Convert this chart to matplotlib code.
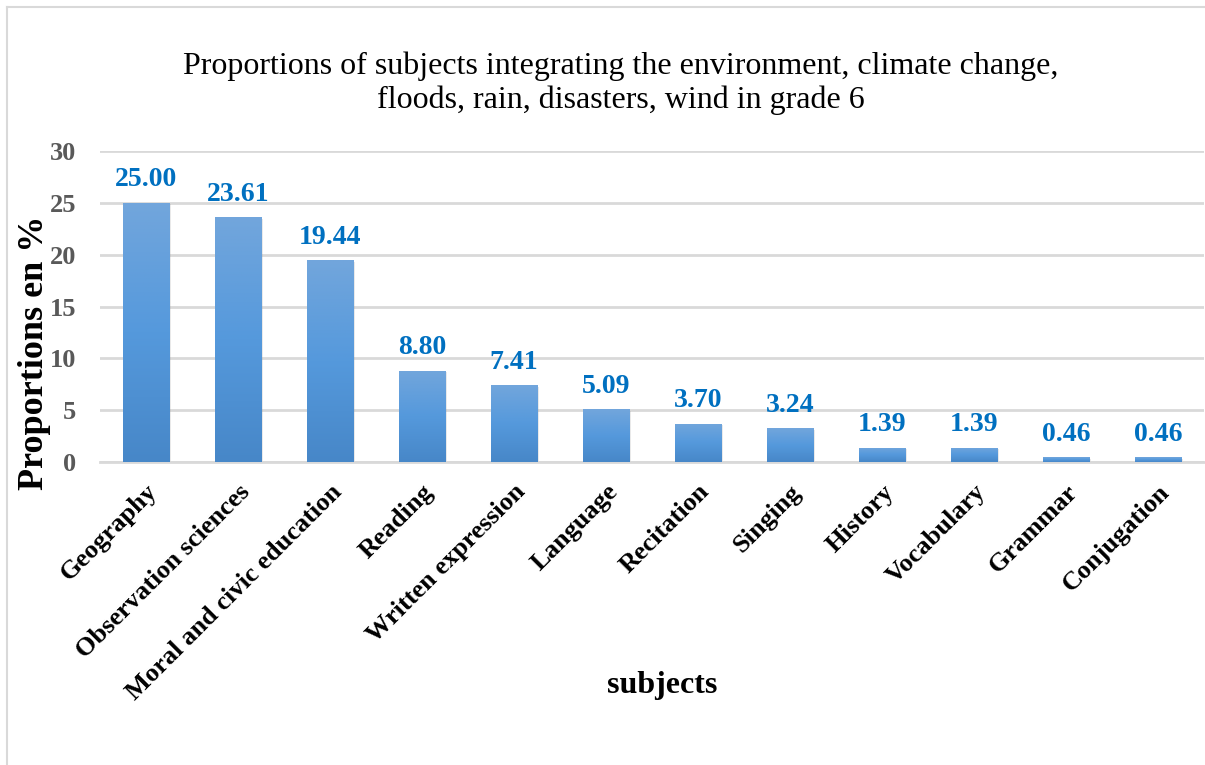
import numpy as np
import matplotlib.pyplot as plt
from matplotlib.colors import LinearSegmentedColormap
from matplotlib.patches import Rectangle

# Data
subjects = ['Geography', 'Observation sciences', 'Moral and civic education',
            'Reading', 'Written expression', 'Language', 'Recitation',
            'Singing', 'History', 'Vocabulary', 'Grammar', 'Conjugation']
proportions = [25.00, 23.61, 19.44, 8.80, 7.41, 5.09, 3.70, 3.24,
               1.39, 1.39, 0.46, 0.46]
yticks = [0, 5, 10, 15, 20, 25, 30]

plt.rcParams['font.family'] = ['Liberation Serif', 'DejaVu Serif']

W, H = 1205, 765
fig = plt.figure(figsize=(W / 100, H / 100), dpi=100)
ax = fig.add_axes([100 / W, 1 - 462 / H, 1104 / W, 311 / H])

x = np.arange(len(subjects))
bars = ax.bar(x, proportions, width=0.51, color='none', zorder=3)

# gradient fill for each bar (light top, darker bottom)
grad = LinearSegmentedColormap.from_list('bar', ['#4787c8', '#5599dc', '#72a6dc'])
g = np.linspace(0, 1, 256).reshape(-1, 1)
for b in bars:
    x0, w, h = b.get_x(), b.get_width(), b.get_height()
    # soft shadow under the bar
    ax.add_patch(Rectangle((x0 + 0.02, -0.15), w, h, color='#888888',
                           alpha=0.18, lw=0, zorder=2))
    im = ax.imshow(g, cmap=grad, origin='lower', aspect='auto',
                   extent=[x0, x0 + w, 0, h], zorder=3)
    im.set_clip_path(b)

for xi, v in zip(x, proportions):
    ax.text(xi, v + 1.0, f'{v:.2f}', ha='center', va='bottom',
            fontsize=20, fontweight='bold', color='#0070c0', zorder=4)

ax.set_xlim(-0.5, len(subjects) - 0.5)
ax.set_ylim(0, 30)
ax.set_yticks(yticks)
ax.set_yticklabels([str(t) for t in yticks], fontsize=19, fontweight='bold',
                   color='#595959')
ax.set_xticks(x)
ax.set_xticklabels(subjects, rotation=45, ha='right', rotation_mode='anchor',
                   fontsize=19, fontweight='bold', color='black')
ax.tick_params(axis='y', length=0, pad=17)
ax.tick_params(axis='x', length=0, pad=13)
ax.grid(axis='y', color='#d9d9d9', linewidth=2, zorder=0)
ax.set_axisbelow(True)
for s in ['top', 'right', 'left']:
    ax.spines[s].set_visible(False)
ax.spines['bottom'].set_color('#d9d9d9')
ax.spines['bottom'].set_linewidth(2)

fig.text(621 / W, 1 - 83 / H,
         'Proportions of subjects integrating the environment, climate change,\n'
         'floods, rain, disasters, wind in grade 6',
         ha='center', va='center', fontsize=23, linespacing=1.2)
fig.text(35 / W, 1 - 353 / H, 'Proportions en %', rotation=90,
         ha='center', va='center', fontsize=26, fontweight='bold')
fig.text(662 / W, 1 - 685 / H, 'subjects', ha='center', va='center',
         fontsize=23, fontweight='bold')

# chart border
fig.add_artist(plt.Line2D([7 / W, 1], [1 - 7 / H, 1 - 7 / H], color='#d9d9d9',
                          lw=1.5, transform=fig.transFigure))
fig.add_artist(plt.Line2D([7 / W, 7 / W], [0, 1 - 7 / H], color='#d9d9d9',
                          lw=1.5, transform=fig.transFigure))

fig.savefig('out.png', dpi=100)
